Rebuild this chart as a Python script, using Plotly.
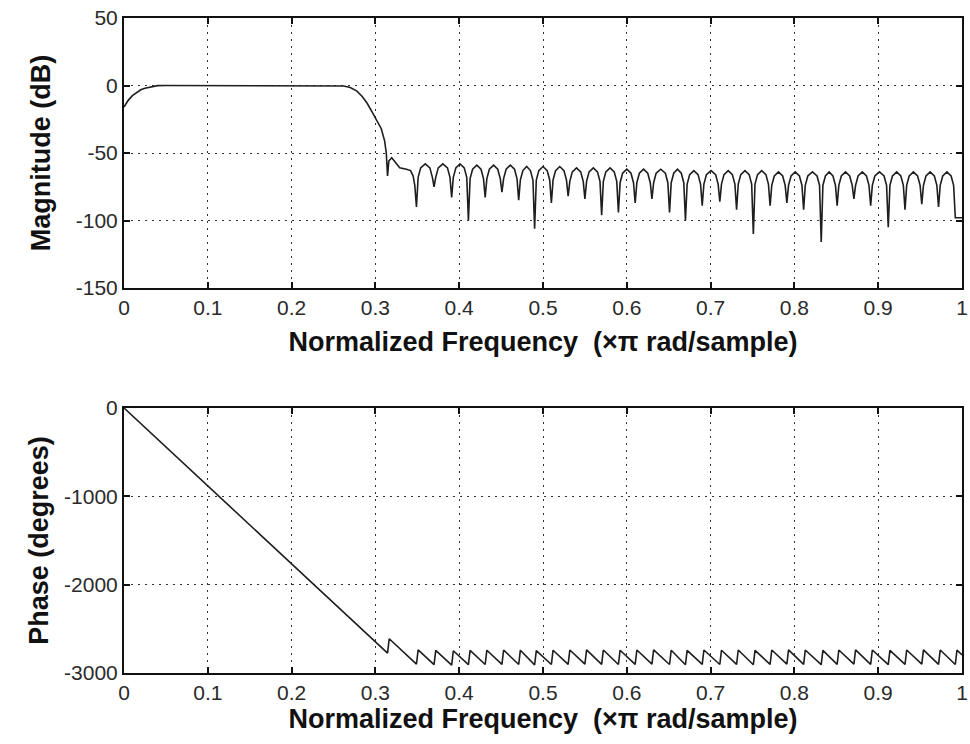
import plotly.graph_objects as go
from plotly.subplots import make_subplots

# ---------------- data ----------------
# Magnitude response (dB) vs normalized frequency
mag_freq = [
    0.000, 0.005, 0.010, 0.015, 0.020, 0.025, 0.030, 0.035, 0.040, 0.050,
    0.100, 0.150, 0.200, 0.250, 0.256, 0.262, 0.270, 0.278, 0.284, 0.290,
    0.296, 0.302, 0.307, 0.311, 0.313, 0.3145, 0.316, 0.3195, 0.323, 0.329,
    0.337, 0.342, 0.345, 0.347, 0.349,
    0.351, 0.354, 0.3595, 0.365, 0.368, 0.370,
    0.372, 0.375, 0.3805, 0.386, 0.389, 0.391,
    0.393, 0.396, 0.401, 0.406, 0.409, 0.411,
    0.413, 0.416, 0.421, 0.426, 0.429, 0.431,
    0.433, 0.436, 0.441, 0.446, 0.449, 0.451,
    0.453, 0.456, 0.461, 0.466, 0.469, 0.471,
    0.473, 0.476, 0.4805, 0.485, 0.488, 0.490,
    0.492, 0.495, 0.500, 0.505, 0.508, 0.510,
    0.512, 0.515, 0.520, 0.525, 0.528, 0.530,
    0.532, 0.535, 0.540, 0.545, 0.548, 0.550,
    0.552, 0.555, 0.560, 0.565, 0.568, 0.570,
    0.572, 0.575, 0.580, 0.585, 0.588, 0.590,
    0.592, 0.595, 0.600, 0.605, 0.608, 0.610,
    0.612, 0.615, 0.620, 0.625, 0.628, 0.630,
    0.632, 0.635, 0.6405, 0.646, 0.649, 0.651,
    0.653, 0.656, 0.6605, 0.665, 0.668, 0.670,
    0.672, 0.675, 0.680, 0.685, 0.688, 0.690,
    0.692, 0.695, 0.7005, 0.706, 0.709, 0.711,
    0.713, 0.716, 0.721, 0.726, 0.729, 0.731,
    0.733, 0.736, 0.741, 0.746, 0.749, 0.751,
    0.753, 0.756, 0.761, 0.766, 0.769, 0.771,
    0.773, 0.776, 0.781, 0.786, 0.789, 0.791,
    0.793, 0.796, 0.801, 0.806, 0.809, 0.811,
    0.813, 0.816, 0.8215, 0.827, 0.830, 0.832,
    0.834, 0.837, 0.8415, 0.846, 0.849, 0.851,
    0.853, 0.856, 0.861, 0.866, 0.869, 0.871,
    0.873, 0.876, 0.881, 0.886, 0.889, 0.891,
    0.893, 0.896, 0.9015, 0.907, 0.910, 0.912,
    0.914, 0.917, 0.922, 0.927, 0.930, 0.932,
    0.934, 0.937, 0.942, 0.947, 0.950, 0.952,
    0.954, 0.957, 0.962, 0.967, 0.970, 0.972,
    0.974, 0.977, 0.982, 0.987, 0.990, 0.992,
    1.000,
]
mag_db = [
    -16, -11, -7.5, -5, -3.2, -2, -1.2, -0.5, -0.1, 0,
    0, 0, 0, 0, -0.1, -0.4, -1.5, -4.2, -8, -13,
    -19.5, -26.5, -32, -41, -50, -67, -56, -53.5, -56, -61,
    -62, -63, -67, -74, -90,
    -68, -61, -58, -61, -68, -75,
    -68, -61, -58, -61, -68, -83,
    -68, -61, -58, -61, -68, -100,
    -69, -62, -59, -62, -69, -83,
    -69, -62, -59, -62, -69, -79,
    -69, -62, -59, -62, -69, -85,
    -70, -63, -60, -63, -70, -106,
    -70, -63, -60, -63, -70, -87,
    -70, -63, -60, -63, -70, -82,
    -71, -64, -61, -64, -71, -84,
    -71, -64, -61, -64, -71, -96,
    -71, -64, -61, -64, -71, -94,
    -72, -65, -62, -65, -72, -87,
    -72, -65, -62, -65, -72, -84,
    -72, -65, -62, -65, -72, -94,
    -72, -65, -62, -65, -72, -100,
    -73, -66, -63, -66, -73, -89,
    -73, -66, -63, -66, -73, -86,
    -73, -66, -63, -66, -73, -92,
    -73, -66, -63, -66, -73, -110,
    -73, -66, -63, -66, -73, -89,
    -74, -67, -64, -67, -74, -87,
    -74, -67, -64, -67, -74, -92,
    -74, -67, -64, -67, -74, -116,
    -74, -67, -64, -67, -74, -89,
    -74, -67, -64, -67, -74, -84,
    -74, -67, -64, -67, -74, -89,
    -74, -67, -64, -67, -74, -105,
    -74, -67, -64, -67, -74, -92,
    -74, -67, -64, -67, -74, -88,
    -74, -67, -64, -67, -74, -90,
    -74, -67, -64, -67, -74, -98,
    -98,
]

# Unwrapped phase (degrees) vs normalized frequency
phase_freq = [
    0.000, 0.3145, 0.3165, 0.349, 0.351, 0.370, 0.372, 0.391, 0.393,
    0.411, 0.413, 0.431, 0.433, 0.451, 0.453, 0.471, 0.473, 0.490, 0.492,
    0.510, 0.512, 0.530, 0.532, 0.550, 0.552, 0.570, 0.572, 0.590, 0.592,
    0.610, 0.612, 0.630, 0.632, 0.651, 0.653, 0.670, 0.672, 0.690, 0.692,
    0.711, 0.713, 0.731, 0.733, 0.751, 0.753, 0.771, 0.773, 0.791, 0.793,
    0.811, 0.813, 0.832, 0.834, 0.851, 0.853, 0.871, 0.873, 0.891, 0.893,
    0.912, 0.914, 0.932, 0.934, 0.952, 0.954, 0.972, 0.974, 0.992, 0.994,
    1.000,
]
phase_deg = [
    0, -2774, -2612, -2900, -2738, -2906, -2744, -2910, -2748,
    -2906, -2744, -2904, -2742, -2902, -2740, -2904, -2742, -2908, -2746,
    -2904, -2742, -2902, -2740, -2900, -2738, -2902, -2740, -2904, -2742,
    -2902, -2740, -2900, -2738, -2904, -2742, -2906, -2744, -2902, -2740,
    -2904, -2742, -2902, -2740, -2906, -2744, -2902, -2740, -2900, -2738,
    -2902, -2740, -2906, -2744, -2902, -2740, -2900, -2738, -2902, -2740,
    -2906, -2744, -2902, -2740, -2900, -2738, -2902, -2740, -2904, -2742,
    -2795,
]

freq_ticks = [0, 0.1, 0.2, 0.3, 0.4, 0.5, 0.6, 0.7, 0.8, 0.9, 1]
freq_tick_text = ["0", "0.1", "0.2", "0.3", "0.4", "0.5", "0.6", "0.7", "0.8", "0.9", "1"]
mag_ticks = [-150, -100, -50, 0, 50]
mag_tick_text = ["-150", "-100", "-50", "0", "50"]
phase_ticks = [-3000, -2000, -1000, 0]
phase_tick_text = ["-3000", "-2000", "-1000", "0"]

x_title = "Normalized Frequency  (×π rad/sample)"

# ---------------- figure ----------------
W, H = 970, 744
ML, MR, MT, MB = 124, 8, 18, 71
PH = H - MT - MB

def py(pix):
    return 1 - (pix - MT) / PH

fig = make_subplots(rows=2, cols=1)
line_style = dict(color="#1e1e1e", width=1.6)
fig.add_trace(go.Scatter(x=mag_freq, y=mag_db, mode="lines", line=line_style,
                         showlegend=False, hoverinfo="skip"), row=1, col=1)
fig.add_trace(go.Scatter(x=phase_freq, y=phase_deg, mode="lines", line=line_style,
                         showlegend=False, hoverinfo="skip"), row=2, col=1)

tick_font = dict(family="Liberation Sans, Arial, sans-serif", size=21, color="#2a2a2a")
title_font = dict(family="Liberation Sans, Arial, sans-serif", size=27, color="#111111")

axis_common = dict(
    showline=True, linecolor="#111111", linewidth=2, mirror="ticks",
    ticks="inside", ticklen=6, tickwidth=1.5, tickcolor="#111111",
    showgrid=True, gridcolor="#333333", gridwidth=1.4, griddash="2px,5px",
    zeroline=False, tickfont=tick_font,
)

fig.update_xaxes(**axis_common, range=[0, 1], tickvals=freq_ticks, ticktext=freq_tick_text)
fig.update_xaxes(title=dict(text="<b>" + x_title + "</b>", font=title_font, standoff=14), row=1, col=1)
fig.update_xaxes(title=dict(text="<b>" + x_title + "</b>", font=title_font, standoff=6), row=2, col=1)

fig.update_yaxes(**axis_common)
fig.update_yaxes(range=[-150, 50], tickvals=mag_ticks, ticktext=mag_tick_text,
                 domain=[py(288), 1],
                 title=dict(text="<b>Magnitude (dB)</b>", font=title_font, standoff=17),
                 row=1, col=1)
fig.update_yaxes(range=[-3000, 0], tickvals=phase_ticks, ticktext=phase_tick_text,
                 domain=[0, py(408)],
                 title=dict(text="<b>Phase (degrees)</b>", font=title_font, standoff=8),
                 row=2, col=1)

fig.update_layout(
    width=W, height=H,
    margin=dict(l=ML, r=MR, t=MT, b=MB, autoexpand=False),
    plot_bgcolor="white", paper_bgcolor="white",
    showlegend=False,
)

fig.write_html("out.html")
